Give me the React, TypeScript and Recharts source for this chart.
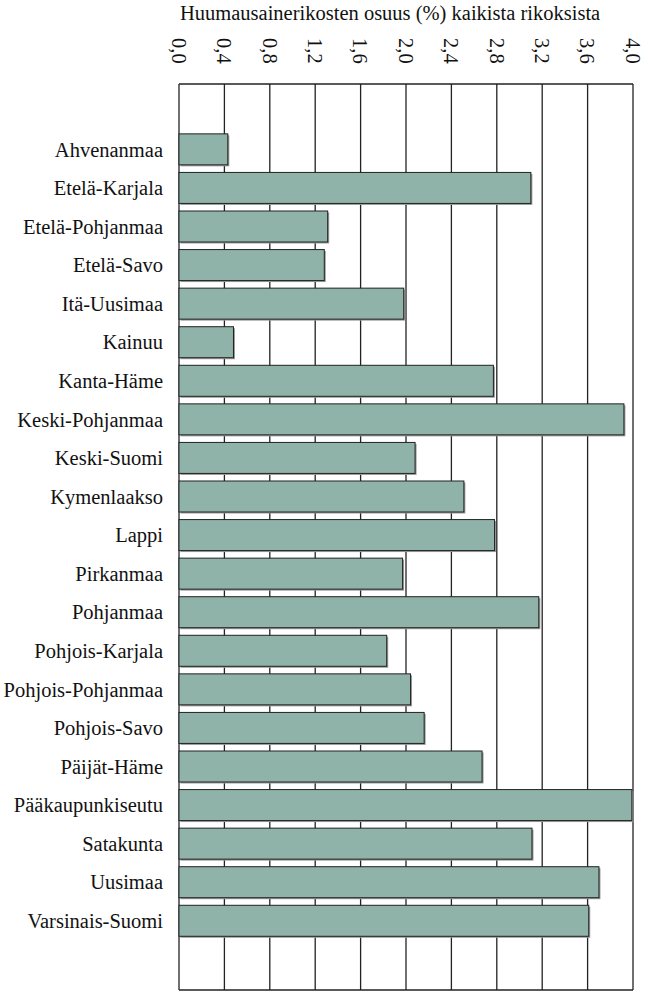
import React from "react";
import { BarChart, Bar, XAxis, YAxis, CartesianGrid } from "recharts";

const categories = [
  "Ahvenanmaa",
  "Etelä-Karjala",
  "Etelä-Pohjanmaa",
  "Etelä-Savo",
  "Itä-Uusimaa",
  "Kainuu",
  "Kanta-Häme",
  "Keski-Pohjanmaa",
  "Keski-Suomi",
  "Kymenlaakso",
  "Lappi",
  "Pirkanmaa",
  "Pohjanmaa",
  "Pohjois-Karjala",
  "Pohjois-Pohjanmaa",
  "Pohjois-Savo",
  "Päijät-Häme",
  "Pääkaupunkiseutu",
  "Satakunta",
  "Uusimaa",
  "Varsinais-Suomi",
];

const values = [
  0.43, 3.1, 1.31, 1.28, 1.98, 0.48, 2.77, 3.92, 2.08, 2.51, 2.78, 1.97, 3.17,
  1.83, 2.04, 2.16, 2.67, 3.99, 3.11, 3.7, 3.61,
];

const xTicks = [0, 0.4, 0.8, 1.2, 1.6, 2.0, 2.4, 2.8, 3.2, 3.6, 4.0];

const title = "Huumausainerikosten osuus (%) kaikista rikoksista";

const data = categories.map((name, i) => ({ name, value: values[i] }));

const FONT = '"Times New Roman", "Liberation Serif", Tinos, monospace';
const FS = 20.5;

const XTick = (props: any) => {
  const { x, y, payload } = props;
  const label = Number(payload.value).toFixed(1).replace(".", ",");
  return (
    <g transform={`translate(${x},${y - 46})`}>
      <text
        transform="rotate(90)"
        x={0}
        y={0}
        dy="0.35em"
        textAnchor="start"
        fontFamily={FONT}
        fontSize={FS}
        fill="#111"
      >
        {label}
      </text>
    </g>
  );
};

const BarShape = (props: any) => {
  const { x, y, width, height } = props;
  if (!width || width <= 0) return null;
  return (
    <g>
      <rect x={x + 1.5} y={y + 1.5} width={width} height={height} fill="#9a9a9a" />
      <rect
        x={x}
        y={y}
        width={width}
        height={height}
        fill="#8fb3a8"
        stroke="#222"
        strokeWidth={1}
      />
    </g>
  );
};

export default function App() {
  return (
    <div style={{ position: "absolute", left: 0, top: 0, fontFamily: FONT }}>
      <div
        style={{
          position: "absolute",
          left: 180,
          top: 2,
          fontFamily: FONT,
          fontSize: FS,
          color: "#111",
          whiteSpace: "nowrap",
        }}
      >
        {title}
      </div>
      <BarChart
        width={649}
        height={996}
        data={data}
        layout="vertical"
        margin={{ top: 30, right: 16, bottom: 6, left: 0 }}
        barCategoryGap="10%"
      >
        <CartesianGrid
          stroke="#222"
          strokeWidth={1.3}
          horizontalCoordinatesGenerator={(p: any) => [p.offset.top, p.offset.top + p.offset.height]}
        />
        <XAxis
          type="number"
          orientation="top"
          domain={[0, 4]}
          ticks={xTicks}
          interval={0}
          height={54}
          axisLine={false}
          tickLine={false}
          tickSize={0}
          tickMargin={0}
          tick={<XTick />}
        />
        <YAxis
          type="category"
          dataKey="name"
          width={179}
          interval={0}
          axisLine={false}
          tickLine={false}
          tickSize={0}
          tickMargin={16}
          padding={{ top: 46, bottom: 50 }}
          tick={{ fontFamily: FONT, fontSize: FS, fill: "#111" }}
        />
        <Bar dataKey="value" isAnimationActive={false} shape={<BarShape />} />
      </BarChart>
    </div>
  );
}
